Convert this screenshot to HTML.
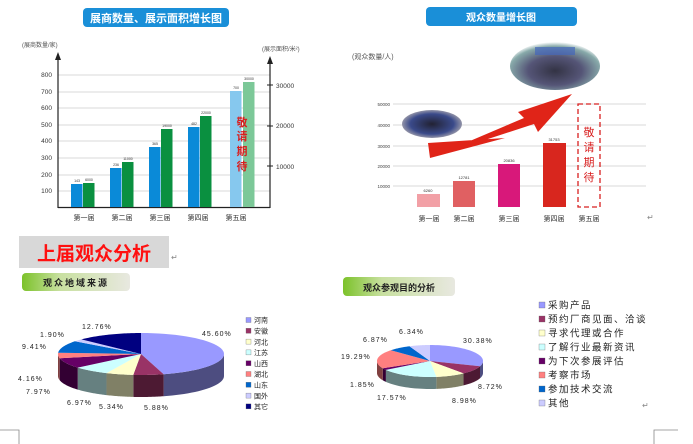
<!DOCTYPE html>
<html><head><meta charset="utf-8">
<style>
html,body{margin:0;padding:0;background:#fff;width:693px;height:444px;overflow:hidden}
svg text{font-family:"Liberation Sans","Noto Sans CJK SC",sans-serif}
</style></head>
<body>
<svg id="s" width="693" height="444" viewBox="0 0 693 444" xmlns="http://www.w3.org/2000/svg">
<defs>
<linearGradient id="gp" x1="0" x2="1" y1="0" y2="0">
<stop offset="0" stop-color="#7cc22a"/><stop offset="0.35" stop-color="#c8e0a0"/><stop offset="1" stop-color="#e8e8e0"/>
</linearGradient>
<radialGradient id="ph1" cx="0.5" cy="0.6" r="0.6">
<stop offset="0" stop-color="#334"/><stop offset="0.5" stop-color="#557"/><stop offset="0.85" stop-color="#8aa"/><stop offset="1" stop-color="#fff"/>
</radialGradient>
<radialGradient id="ph2" cx="0.5" cy="0.5" r="0.6">
<stop offset="0" stop-color="#223"/><stop offset="0.6" stop-color="#3a4a8a"/><stop offset="0.85" stop-color="#99a"/><stop offset="1" stop-color="#fff"/>
</radialGradient>
</defs>

<!-- Chart 1 -->
<rect x="83" y="8" width="146" height="19" rx="4" fill="#1a8fd8"/>
<text x="156" y="22" font-size="11" font-weight="bold" fill="#fff" text-anchor="middle">展商数量、展示面积增长图</text>
<text x="22" y="47" font-size="6" fill="#555">(展商数量/家)</text>
<text x="262" y="51" font-size="6" fill="#555">(展示面积/米²)</text>
<g stroke="#ccc" stroke-width="0.8">
<line x1="58" y1="75" x2="270" y2="75"/><line x1="58" y1="92" x2="270" y2="92"/><line x1="58" y1="108" x2="270" y2="108"/>
<line x1="58" y1="125" x2="270" y2="125"/><line x1="58" y1="141" x2="270" y2="141"/><line x1="58" y1="158" x2="270" y2="158"/>
<line x1="58" y1="175" x2="270" y2="175"/><line x1="58" y1="191" x2="270" y2="191"/>
</g>
<line x1="58" y1="57" x2="58" y2="208" stroke="#222" stroke-width="1.2"/>
<polygon points="58,52 55,60 61,60" fill="#222"/>
<line x1="270" y1="61" x2="270" y2="208" stroke="#222" stroke-width="1.2"/>
<polygon points="270,56 267,64 273,64" fill="#222"/>
<line x1="58" y1="207.5" x2="270" y2="207.5" stroke="#222" stroke-width="1.2"/>
<g font-size="6.5" fill="#333" text-anchor="end">
<text x="52" y="77">800</text><text x="52" y="94">700</text><text x="52" y="110">600</text><text x="52" y="127">500</text>
<text x="52" y="143">400</text><text x="52" y="160">300</text><text x="52" y="177">200</text><text x="52" y="193">100</text>
</g>
<g stroke="#222"><line x1="267" y1="85" x2="273" y2="85"/><line x1="267" y1="126" x2="273" y2="126"/><line x1="267" y1="166" x2="273" y2="166"/></g>
<g font-size="6.5" fill="#333"><text x="276" y="88">30000</text><text x="276" y="128">20000</text><text x="276" y="169">10000</text></g>
<g fill="#0a8ad8">
<rect x="71" y="184" width="11.5" height="23"/><rect x="110" y="168" width="11.5" height="39"/>
<rect x="149" y="147" width="11.5" height="60"/><rect x="188" y="127" width="11.5" height="80"/>
</g>
<g fill="#0a9040">
<rect x="83" y="183" width="11.5" height="24"/><rect x="122" y="162" width="11.5" height="45"/>
<rect x="161" y="129" width="11.5" height="78"/><rect x="200" y="116" width="11.5" height="91"/>
</g>
<rect x="230" y="91" width="11.5" height="116" fill="#86c8ee"/>
<rect x="243" y="82" width="11.5" height="125" fill="#7cc898"/>
<g font-size="3.5" fill="#333" text-anchor="middle">
<text x="77" y="182">143</text><text x="89" y="181">6000</text><text x="116" y="166">236</text><text x="128" y="160">11000</text>
<text x="155" y="145">365</text><text x="167" y="127">19000</text><text x="194" y="125">482</text><text x="206" y="114">22000</text>
<text x="236" y="89">700</text><text x="249" y="80">30000</text>
</g>
<g font-size="11" font-weight="bold" fill="#d82020" text-anchor="middle">
<text x="242" y="126">敬</text><text x="242" y="140">请</text><text x="242" y="155">期</text><text x="242" y="170">待</text>
</g>
<g font-size="7" fill="#333" text-anchor="middle">
<text x="84" y="220">第一届</text><text x="122" y="220">第二届</text><text x="160" y="220">第三届</text><text x="198" y="220">第四届</text><text x="236" y="220">第五届</text>
</g>

<!-- Chart 2 -->
<rect x="426" y="7" width="151" height="19" rx="4" fill="#1a8fd8"/>
<text x="501" y="21" font-size="10" font-weight="bold" fill="#fff" text-anchor="middle">观众数量增长图</text>
<text x="352" y="59" font-size="7" fill="#555">(观众数量/人)</text>
<g stroke="#ccc" stroke-width="0.8">
<line x1="393" y1="104" x2="646" y2="104"/><line x1="393" y1="125" x2="646" y2="125"/><line x1="393" y1="146" x2="646" y2="146"/>
<line x1="393" y1="166" x2="646" y2="166"/><line x1="393" y1="186" x2="646" y2="186"/>
</g>
<g font-size="4.5" fill="#444" text-anchor="end">
<text x="390" y="106">50000</text><text x="390" y="127">40000</text><text x="390" y="148">30000</text><text x="390" y="168">20000</text><text x="390" y="188">10000</text>
</g>
<rect x="417" y="194" width="23" height="13" fill="#f2a0a6"/>
<rect x="453" y="181" width="22" height="26" fill="#e06062"/>
<rect x="498" y="164" width="22" height="43" fill="#d8187a"/>
<rect x="543" y="143" width="23" height="64" fill="#d8261e"/>
<rect x="578" y="104" width="22" height="103" fill="none" stroke="#d82020" stroke-width="1.3" stroke-dasharray="5,3"/>
<g font-size="4" fill="#333" text-anchor="middle">
<text x="428" y="192">6260</text><text x="464" y="179">12781</text><text x="509" y="162">20836</text><text x="554" y="141">31753</text>
</g>
<g font-size="11" fill="#d82020" text-anchor="middle">
<text x="589" y="136">敬</text><text x="589" y="151">请</text><text x="589" y="166">期</text><text x="589" y="181">待</text>
</g>
<g font-size="7" fill="#333" text-anchor="middle">
<text x="429" y="221">第一届</text><text x="464" y="221">第二届</text><text x="509" y="221">第三届</text><text x="554" y="221">第四届</text><text x="589" y="221">第五届</text>
</g>
<ellipse cx="555" cy="66" rx="45" ry="24" fill="url(#ph1)"/>
<rect x="535" y="47" width="40" height="8" fill="#4466bb" opacity="0.7"/>
<ellipse cx="432" cy="124" rx="30" ry="14" fill="url(#ph2)"/>
<path d="M430,158 L524,118 L518,112 L572,94 L538,132 L534,124 L430,158 Z M428,143 L505,138 L430,158 Z" fill="#e02418"/>
<text x="647" y="220" font-size="8" fill="#888">↵</text>

<!-- Bottom -->
<rect x="19" y="236" width="150" height="32" fill="#d8d8d8"/>
<text x="94" y="260" font-size="19" font-weight="bold" fill="#ff1010" text-anchor="middle">上届观众分析</text>
<text x="171" y="260" font-size="8" fill="#888">↵</text>
<rect x="22" y="273" width="108" height="18" rx="4" fill="url(#gp)"/>
<text x="76" y="286" font-size="9" font-weight="bold" fill="#222" text-anchor="middle" letter-spacing="2">观众地域来源</text>
<rect x="343" y="277" width="112" height="19" rx="4" fill="url(#gp)"/>
<text x="399" y="291" font-size="9" font-weight="bold" fill="#222" text-anchor="middle">观众参观目的分析</text>

<g id="pies"></g>

<g font-size="7" fill="#222" letter-spacing="1">
<text x="202" y="336">45.60%</text><text x="82" y="329">12.76%</text><text x="40" y="337">1.90%</text>
<text x="22" y="349">9.41%</text><text x="18" y="381">4.16%</text><text x="26" y="394">7.97%</text>
<text x="67" y="405">6.97%</text><text x="99" y="409">5.34%</text><text x="144" y="410">5.88%</text>
</g>
<g font-size="7" fill="#222" letter-spacing="1">
<text x="463" y="343">30.38%</text><text x="399" y="334">6.34%</text><text x="363" y="342">6.87%</text>
<text x="341" y="359">19.29%</text><text x="350" y="387">1.85%</text><text x="377" y="400">17.57%</text>
<text x="452" y="403">8.98%</text><text x="478" y="389">8.72%</text>
</g>

<g id="leg1" font-size="7" fill="#222"></g>
<g id="leg2" font-size="9.5" fill="#222" letter-spacing="1.5"></g>

<text x="642" y="408" font-size="8" fill="#888">↵</text>
<g stroke="#888" fill="none" stroke-width="0.8">
<path d="M0,430 H19 V444"/><path d="M654,444 V430 H678"/>
</g>
</svg>
<script>
var NS="http://www.w3.org/2000/svg";
var cols=["#9999ff","#993366","#ffffcc","#ccffff","#660066","#ff8080","#0066cc","#ccccff","#000080"];
function dark(c){var r=parseInt(c.substr(1,2),16),g=parseInt(c.substr(3,2),16),b=parseInt(c.substr(5,2),16);
return "rgb("+Math.round(r*0.5)+","+Math.round(g*0.5)+","+Math.round(b*0.5)+")";}
function pie(cx,cy,rx,ry,d,vals,colors){
 var g=document.getElementById("pies"),tot=0,i;vals.forEach(function(v){tot+=v});
 var a=-Math.PI/2,angs=[];
 for(i=0;i<vals.length;i++){var b=a+2*Math.PI*vals[i]/tot;angs.push([a,b]);a=b;}
 function P(t,dy){return (cx+rx*Math.cos(t)).toFixed(2)+","+(cy+ry*Math.sin(t)+(dy||0)).toFixed(2);}
 // side walls
 for(i=0;i<vals.length;i++){
  var s=angs[i][0],e=angs[i][1];
  [[0,Math.PI],[2*Math.PI,3*Math.PI]].forEach(function(r){
   var lo=Math.max(s,r[0]),hi=Math.min(e,r[1]);
   if(hi>lo){var p="M"+P(lo),n=24;
    for(var k=1;k<=n;k++)p+=" L"+P(lo+(hi-lo)*k/n);
    for(var k=n;k>=0;k--)p+=" L"+P(lo+(hi-lo)*k/n,d);
    var el=document.createElementNS(NS,"path");el.setAttribute("d",p+"Z");el.setAttribute("fill",dark(colors[i]));g.appendChild(el);}
  });
 }
 for(i=0;i<vals.length;i++){
  var s=angs[i][0],e=angs[i][1],p="M"+cx+","+cy+" L"+P(s),n=40;
  for(var k=1;k<=n;k++)p+=" L"+P(s+(e-s)*k/n);
  var el=document.createElementNS(NS,"path");el.setAttribute("d",p+"Z");el.setAttribute("fill",colors[i]);g.appendChild(el);
 }
}
pie(141,354,83,21,22,[45.6,5.88,5.34,6.97,7.97,4.16,9.41,1.9,12.76],cols);
pie(430,361,53,16,12,[30.38,8.72,8.98,17.57,1.85,19.29,6.87,6.34],cols.slice(0,8));
function leg(id,x,y0,step,sz,names,fs){var g=document.getElementById(id);
 names.forEach(function(n,i){var y=y0+i*step;
  var r=document.createElementNS(NS,"rect");r.setAttribute("x",x);r.setAttribute("y",y-sz/2);r.setAttribute("width",sz);r.setAttribute("height",sz);
  r.setAttribute("fill",cols[i]);r.setAttribute("stroke","#666");r.setAttribute("stroke-width","0.3");g.appendChild(r);
  var t=document.createElementNS(NS,"text");t.setAttribute("x",x+sz+3);t.setAttribute("y",y+fs*0.38);t.textContent=n;g.appendChild(t);});}
leg("leg1",246,320,10.8,5,["河南","安徽","河北","江苏","山西","湖北","山东","国外","其它"],7);
leg("leg2",539,305,14,6,["采购产品","预约厂商见面、洽谈","寻求代理或合作","了解行业最新资讯","为下次参展评估","考察市场","参加技术交流","其他"],9.5);
</script>
</body></html>
